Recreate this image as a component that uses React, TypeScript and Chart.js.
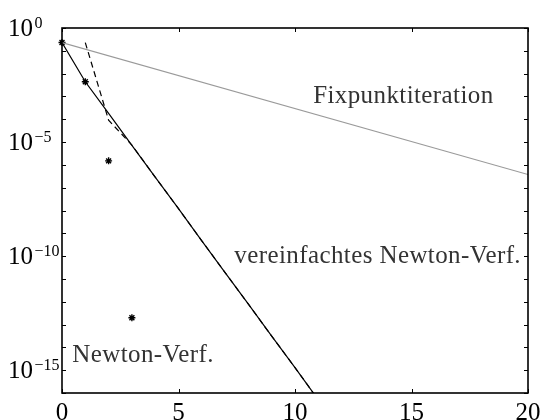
import React, { useEffect, useRef } from "react";
import { Chart, registerables } from "chart.js";

Chart.register(...registerables);

// Fehlerverlauf |x_k - x*| über den Iterationsindex k
const fixpunktIter = [0, 20];
const fixpunktError = [2.3e-1, 3.8e-7];

const vereinfachtIter = [0, 1, 2, 3, 4, 5, 6, 7, 8, 9, 10, 11];
const vereinfachtError = [
  2.3e-1, 4.4e-3, 1.8e-4, 7.1e-6, 2.9e-7, 1.2e-8, 4.7e-10, 1.9e-11, 7.8e-13,
  3.1e-14, 1.3e-15, 5.0e-17,
];

// Fehlerschätzung (gestrichelt)
const schaetzungIter = [1, 2, 3, 4, 5, 6, 7, 8, 9, 10, 11];
const schaetzungError = [
  2.3e-1, 9.1e-5, 7.4e-6, 2.9e-7, 1.2e-8, 4.7e-10, 1.9e-11, 7.8e-13, 3.1e-14,
  1.3e-15, 5.0e-17,
];

const newtonIter = [0, 1, 2, 3];
const newtonError = [2.3e-1, 4.4e-3, 1.5e-6, 2.0e-13];

const xTicks = [0, 5, 10, 15, 20];
const yLabelExponents = [0, -5, -10, -15];
const yMinExp = -16;
const yMaxExp = 0;

const curveLabels = [
  { text: "Fixpunktiteration", x: 14.65, y: 5.0e-4, align: "center" },
  { text: "vereinfachtes Newton-Verf.", x: 19.7, y: 4.8e-11, align: "right" },
  { text: "Newton-Verf.", x: 0.44, y: 2.2e-15, align: "left" },
];

const SERIF = '"Liberation Serif", "Times New Roman", serif';

const toPoints = (xs: number[], ys: number[]) =>
  xs.map((x, i) => ({ x, y: ys[i] }));

const axesPlugin = {
  id: "texAxes",
  afterDatasetsDraw(chart: any) {
    const ctx: CanvasRenderingContext2D = chart.ctx;
    const { left, right, top, bottom } = chart.chartArea;
    const xs = chart.scales.x;
    const ys = chart.scales.y;
    const tick = 4;

    ctx.save();
    // Rahmen
    ctx.strokeStyle = "#000";
    ctx.lineWidth = 1.6;
    ctx.strokeRect(left, top, right - left, bottom - top);

    // Ticks nach innen, beidseitig
    ctx.lineWidth = 1;
    ctx.beginPath();
    for (let e = yMinExp; e <= yMaxExp; e++) {
      const py = Math.round(ys.getPixelForValue(Math.pow(10, e))) + 0.5;
      ctx.moveTo(left, py);
      ctx.lineTo(left + tick, py);
      ctx.moveTo(right, py);
      ctx.lineTo(right - tick, py);
    }
    for (const t of xTicks) {
      const px = Math.round(xs.getPixelForValue(t)) + 0.5;
      ctx.moveTo(px, bottom);
      ctx.lineTo(px, bottom - tick);
      ctx.moveTo(px, top);
      ctx.lineTo(px, top + tick);
    }
    ctx.stroke();

    // x-Beschriftung
    ctx.fillStyle = "#000";
    ctx.font = `25px ${SERIF}`;
    ctx.textAlign = "center";
    ctx.textBaseline = "alphabetic";
    for (const t of xTicks) {
      ctx.fillText(String(t), xs.getPixelForValue(t), 420);
    }

    // y-Beschriftung 10^k
    ctx.textAlign = "left";
    for (const e of yLabelExponents) {
      const py = ys.getPixelForValue(Math.pow(10, e));
      const base = py + 8;
      ctx.font = `25px ${SERIF}`;
      ctx.fillText("10", 8, base);
      const w = ctx.measureText("10").width;
      ctx.font = `16px ${SERIF}`;
      const exp = e < 0 ? "\u2212" + String(-e) : String(e);
      ctx.fillText(exp, 8 + w + 1.5, base - 8);
    }

    // Kurvenbeschriftungen
    ctx.fillStyle = "#333";
    ctx.font = `25px ${SERIF}`;
    (ctx as any).letterSpacing = "0.4px";
    for (const l of curveLabels) {
      ctx.textAlign = l.align as CanvasTextAlign;
      ctx.fillText(l.text, xs.getPixelForValue(l.x), ys.getPixelForValue(l.y));
    }
    ctx.restore();
  },
};

export default function App() {
  const canvasRef = useRef<HTMLCanvasElement | null>(null);

  useEffect(() => {
    if (!canvasRef.current) return;
    const chart = new Chart(canvasRef.current, {
      type: "scatter",
      data: {
        datasets: [
          {
            label: "Fixpunktiteration",
            data: toPoints(fixpunktIter, fixpunktError),
            showLine: true,
            borderColor: "#9a9a9a",
            borderWidth: 1.1,
            pointRadius: 0,
          },
          {
            label: "vereinfachtes Newton-Verf.",
            data: toPoints(vereinfachtIter, vereinfachtError),
            showLine: true,
            borderColor: "#000",
            borderWidth: 1.2,
            pointRadius: 0,
          },
          {
            label: "Fehlerschätzung",
            data: toPoints(schaetzungIter, schaetzungError),
            showLine: true,
            borderColor: "#000",
            borderWidth: 1.2,
            borderDash: [6, 4],
            pointRadius: 0,
          },
          {
            label: "Newton-Verf.",
            data: toPoints(newtonIter, newtonError),
            showLine: false,
            pointStyle: "star",
            pointRadius: 3.5,
            borderColor: "#000",
            backgroundColor: "#000",
            pointBorderWidth: 1.4,
            clip: false,
          } as any,
        ],
      },
      options: {
        responsive: false,
        animation: false,
        events: [],
        layout: { padding: { left: 62, top: 28, right: 14, bottom: 27 } },
        plugins: {
          legend: { display: false },
          tooltip: { enabled: false },
        },
        scales: {
          x: { type: "linear", min: 0, max: 20, display: false },
          y: {
            type: "logarithmic",
            min: Math.pow(10, yMinExp),
            max: Math.pow(10, yMaxExp),
            display: false,
          },
        },
      },
      plugins: [axesPlugin],
    });
    return () => chart.destroy();
  }, []);

  return (
    <div style={{ position: "absolute", left: 0, top: 0, width: 542, height: 420 }}>
      <canvas ref={canvasRef} width={542} height={420} style={{ display: "block" }} />
    </div>
  );
}
